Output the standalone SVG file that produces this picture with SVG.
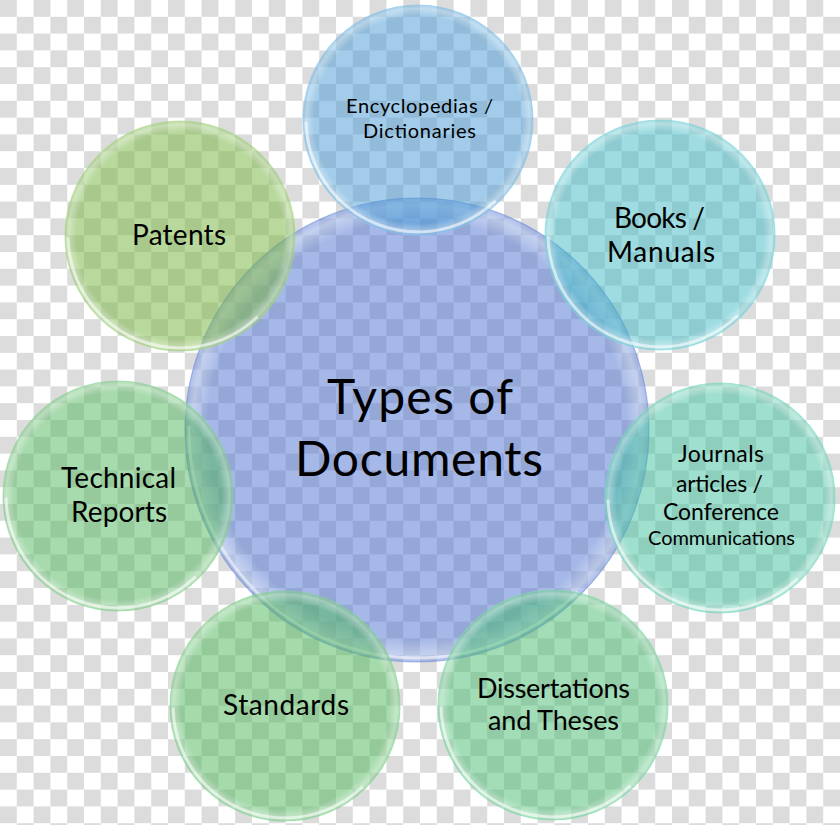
<svg xmlns="http://www.w3.org/2000/svg" width="840" height="825" viewBox="0 0 840 825">
<defs>
<pattern id="checker" x="0" y="0" width="33.6" height="33.6" patternUnits="userSpaceOnUse">
<rect width="33.6" height="33.6" fill="#ffffff"/>
<rect x="0" y="0" width="16.8" height="16.8" fill="#dcdcdc"/>
<rect x="16.8" y="16.8" width="16.8" height="16.8" fill="#dcdcdc"/>
</pattern>
<radialGradient id="shine" cx="0.5" cy="0.5" r="0.5">
<stop offset="0.9" stop-color="#ffffff" stop-opacity="0"/>
<stop offset="0.97" stop-color="#ffffff" stop-opacity="0.35"/>
<stop offset="1" stop-color="#ffffff" stop-opacity="0.1"/>
</radialGradient>
</defs>
<style>
.lbl{font-family:Lato,"Open Sans","Liberation Sans",sans-serif;fill:#000;text-anchor:middle}
.rim{fill:none;stroke:#ffffff;stroke-opacity:0.55;stroke-width:3}
.edge{fill:none;stroke-width:1.2;stroke-opacity:0.6}
.glow{fill:url(#shine)}
</style>
<rect width="840" height="825" fill="url(#checker)"/>
<g id="center">
<circle cx="417" cy="430" r="232" fill="#4c72d0" fill-opacity="0.5"/>
<circle class="glow" cx="417" cy="430" r="232"/>
<circle class="rim" cx="417" cy="430" r="228" stroke-dasharray="0 180 540 900"/>
<circle class="edge" cx="417" cy="430" r="232" stroke="#6f8fdc"/>
<text class="lbl" x="420" y="414" font-size="48" textLength="186" lengthAdjust="spacing">Types of</text>
<text class="lbl" x="419" y="476" font-size="48" textLength="248" lengthAdjust="spacing">Documents</text>
</g>
<g id="encyclopedias">
<circle cx="418" cy="120" r="115" fill="#469ad4" fill-opacity="0.5"/>
<circle class="glow" cx="418" cy="120" r="115"/>
<circle class="rim" cx="418" cy="120" r="112" stroke-dasharray="0 90 260 400"/>
<circle class="edge" cx="418" cy="120" r="115" stroke="#8cc8ee"/>
<text class="lbl" x="419.5" y="113" font-size="20" textLength="147" lengthAdjust="spacing">Encyclopedias /</text>
<text class="lbl" x="419.5" y="138" font-size="20" textLength="113" lengthAdjust="spacing">Dictionaries</text>
</g>
<g id="books">
<circle cx="660" cy="235" r="115" fill="#3ebac4" fill-opacity="0.5"/>
<circle class="glow" cx="660" cy="235" r="115"/>
<circle class="rim" cx="660" cy="235" r="112" stroke-dasharray="0 90 260 400"/>
<circle class="edge" cx="660" cy="235" r="115" stroke="#7ed8e0"/>
<text class="lbl" x="659.5" y="228" font-size="28" textLength="91" lengthAdjust="spacing">Books /</text>
<text class="lbl" x="661" y="262" font-size="28" textLength="108" lengthAdjust="spacing">Manuals</text>
</g>
<g id="journals">
<circle cx="720" cy="498" r="115" fill="#40c09e" fill-opacity="0.5"/>
<circle class="glow" cx="720" cy="498" r="115"/>
<circle class="rim" cx="720" cy="498" r="112" stroke-dasharray="0 90 260 400"/>
<circle class="edge" cx="720" cy="498" r="115" stroke="#7edcc4"/>
<text class="lbl" x="721" y="462" font-size="23" textLength="86" lengthAdjust="spacing">Journals</text>
<text class="lbl" x="719.5" y="492" font-size="23" textLength="87" lengthAdjust="spacing">articles /</text>
<text class="lbl" x="721" y="520" font-size="23" textLength="116" lengthAdjust="spacing">Conference</text>
<text class="lbl" x="721.5" y="545" font-size="20" textLength="147" lengthAdjust="spacing">Communications</text>
</g>
<g id="dissertations">
<circle cx="553" cy="705" r="115" fill="#46bc70" fill-opacity="0.5"/>
<circle class="glow" cx="553" cy="705" r="115"/>
<circle class="rim" cx="553" cy="705" r="112" stroke-dasharray="0 90 260 400"/>
<circle class="edge" cx="553" cy="705" r="115" stroke="#86dcb0"/>
<text class="lbl" x="553.5" y="698" font-size="27" textLength="153" lengthAdjust="spacing">Dissertations</text>
<text class="lbl" x="553.5" y="730" font-size="27" textLength="131" lengthAdjust="spacing">and Theses</text>
</g>
<g id="standards">
<circle cx="285" cy="706" r="115" fill="#4cb658" fill-opacity="0.5"/>
<circle class="glow" cx="285" cy="706" r="115"/>
<circle class="rim" cx="285" cy="706" r="112" stroke-dasharray="0 90 260 400"/>
<circle class="edge" cx="285" cy="706" r="115" stroke="#8cd69a"/>
<text class="lbl" x="286" y="715" font-size="28" textLength="126" lengthAdjust="spacing">Standards</text>
</g>
<g id="technical">
<circle cx="118" cy="496" r="115" fill="#50b55a" fill-opacity="0.5"/>
<circle class="glow" cx="118" cy="496" r="115"/>
<circle class="rim" cx="118" cy="496" r="112" stroke-dasharray="0 90 260 400"/>
<circle class="edge" cx="118" cy="496" r="115" stroke="#90d496"/>
<text class="lbl" x="118.5" y="488" font-size="28" textLength="115" lengthAdjust="spacing">Technical</text>
<text class="lbl" x="119" y="522" font-size="28" textLength="96" lengthAdjust="spacing">Reports</text>
</g>
<g id="patents">
<circle cx="180" cy="236" r="115" fill="#7cb748" fill-opacity="0.54"/>
<circle class="glow" cx="180" cy="236" r="115"/>
<circle class="rim" cx="180" cy="236" r="112" stroke-dasharray="0 90 260 400"/>
<circle class="edge" cx="180" cy="236" r="115" stroke="#a8d88a"/>
<text class="lbl" x="179" y="245" font-size="28" textLength="94" lengthAdjust="spacing">Patents</text>
</g>
<g id="connectors"/>
</svg>
